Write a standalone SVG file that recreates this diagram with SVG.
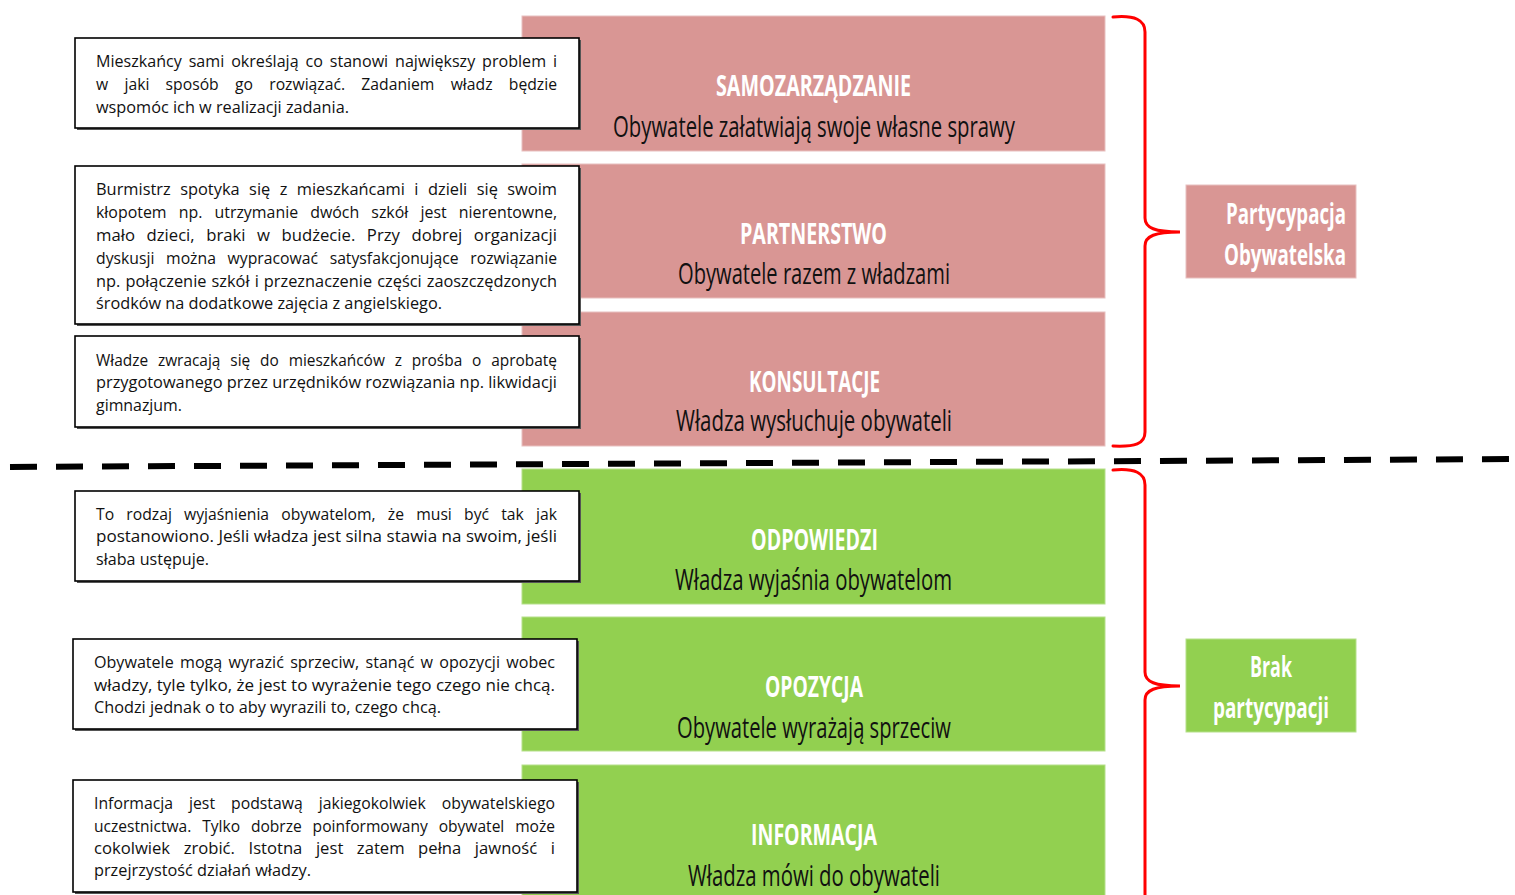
<svg xmlns="http://www.w3.org/2000/svg" width="1515" height="895" viewBox="0 0 1515 895">
<style>
.pink{fill:#D99694;stroke:#E8C0BF;stroke-width:1}
.green{fill:#92D050;stroke:#B5E08A;stroke-width:1}
.ttl{font-family:"Open Sans","Liberation Sans",sans-serif;font-weight:bold;font-size:29px;fill:#ffffff;text-anchor:start}
.sub{font-family:"Open Sans","Liberation Sans",sans-serif;font-size:29px;fill:#111111}
.note{fill:#ffffff;stroke:#000000;stroke-width:1.6}
.shadow{fill:#555555}
.nt{font-family:"Open Sans","Liberation Sans",sans-serif;font-size:15.5px;fill:#111111}
.lbl{font-family:"Open Sans","Liberation Sans",sans-serif;font-weight:bold;font-size:29px;fill:#ffffff}
.brace{fill:none;stroke:#FF0000;stroke-width:3;stroke-linecap:round}
</style>
<rect width="1515" height="895" fill="#ffffff"/>

<g id="levels">
<g id="samorzad">
<rect class="pink" x="522" y="16" width="583" height="135"/>
<text class="ttl" x="716" y="96" textLength="195" lengthAdjust="spacingAndGlyphs">SAMOZARZĄDZANIE</text>
<text class="sub" x="613" y="137" textLength="402" lengthAdjust="spacingAndGlyphs">Obywatele załatwiają swoje własne sprawy</text>
</g>
<g id="partnerstwo">
<rect class="pink" x="522" y="164" width="583" height="134"/>
<text class="ttl" x="740" y="244" textLength="147" lengthAdjust="spacingAndGlyphs">PARTNERSTWO</text>
<text class="sub" x="678" y="284" textLength="272" lengthAdjust="spacingAndGlyphs">Obywatele razem z władzami</text>
</g>
<g id="konsultacje">
<rect class="pink" x="522" y="312" width="583" height="134"/>
<text class="ttl" x="749" y="392" textLength="131" lengthAdjust="spacingAndGlyphs">KONSULTACJE</text>
<text class="sub" x="676" y="431" textLength="276" lengthAdjust="spacingAndGlyphs">Władza wysłuchuje obywateli</text>
</g>
<g id="odpowiedzi">
<rect class="green" x="522" y="469" width="583" height="135"/>
<text class="ttl" x="751" y="550" textLength="127" lengthAdjust="spacingAndGlyphs">ODPOWIEDZI</text>
<text class="sub" x="675" y="590" textLength="277" lengthAdjust="spacingAndGlyphs">Władza wyjaśnia obywatelom</text>
</g>
<g id="opozycja">
<rect class="green" x="522" y="617" width="583" height="134"/>
<text class="ttl" x="765" y="697" textLength="98" lengthAdjust="spacingAndGlyphs">OPOZYCJA</text>
<text class="sub" x="677" y="738" textLength="274" lengthAdjust="spacingAndGlyphs">Obywatele wyrażają sprzeciw</text>
</g>
<g id="informacja">
<rect class="green" x="522" y="765" width="583" height="140"/>
<text class="ttl" x="751" y="845" textLength="126" lengthAdjust="spacingAndGlyphs">INFORMACJA</text>
<text class="sub" x="688" y="886" textLength="252" lengthAdjust="spacingAndGlyphs">Władza mówi do obywateli</text>
</g>
</g>

<g id="notes">
<g id="note-a">
<rect class="shadow" x="77" y="40" width="504" height="90"/>
<rect class="note" x="75" y="38" width="504" height="90"/>
<text class="nt" x="96" y="67" word-spacing="2.6" textLength="461" lengthAdjust="spacingAndGlyphs">Mieszkańcy sami określają co stanowi największy problem i</text>
<text class="nt" x="96" y="90" word-spacing="12" textLength="461" lengthAdjust="spacingAndGlyphs">w jaki sposób go rozwiązać. Zadaniem władz będzie</text>
<text class="nt" x="96" y="113" textLength="253" lengthAdjust="spacingAndGlyphs">wspomóc ich w realizacji zadania.</text>
</g>
<g id="note-b">
<rect class="shadow" x="77" y="168" width="504" height="158"/>
<rect class="note" x="75" y="166" width="504" height="158"/>
<text class="nt" x="96" y="195" word-spacing="4.9" textLength="461" lengthAdjust="spacingAndGlyphs">Burmistrz spotyka się z mieszkańcami i dzieli się swoim</text>
<text class="nt" x="96" y="218" word-spacing="7.8" textLength="461" lengthAdjust="spacingAndGlyphs">kłopotem np. utrzymanie dwóch szkół jest nierentowne,</text>
<text class="nt" x="96" y="241" word-spacing="6.7" textLength="461" lengthAdjust="spacingAndGlyphs">mało dzieci, braki w budżecie. Przy dobrej organizacji</text>
<text class="nt" x="96" y="264" word-spacing="7.5" textLength="461" lengthAdjust="spacingAndGlyphs">dyskusji można wypracować satysfakcjonujące rozwiązanie</text>
<text class="nt" x="96" y="287" word-spacing="0.8" textLength="461" lengthAdjust="spacingAndGlyphs">np. połączenie szkół i przeznaczenie części zaoszczędzonych</text>
<text class="nt" x="96" y="309" textLength="346" lengthAdjust="spacingAndGlyphs">środków na dodatkowe zajęcia z angielskiego.</text>
</g>
<g id="note-c">
<rect class="shadow" x="77" y="338" width="504" height="91"/>
<rect class="note" x="75" y="336" width="504" height="91"/>
<text class="nt" x="96" y="366" word-spacing="5.9" textLength="461" lengthAdjust="spacingAndGlyphs">Władze zwracają się do mieszkańców z prośba o aprobatę</text>
<text class="nt" x="96" y="388" textLength="461" lengthAdjust="spacingAndGlyphs">przygotowanego przez urzędników rozwiązania np. likwidacji</text>
<text class="nt" x="96" y="411" textLength="86" lengthAdjust="spacingAndGlyphs">gimnazjum.</text>
</g>
<g id="note-d">
<rect class="shadow" x="77" y="493" width="504" height="90"/>
<rect class="note" x="75" y="491" width="504" height="90"/>
<text class="nt" x="96" y="520" word-spacing="8" textLength="461" lengthAdjust="spacingAndGlyphs">To rodzaj wyjaśnienia obywatelom, że musi być tak jak</text>
<text class="nt" x="96" y="542" textLength="461" lengthAdjust="spacingAndGlyphs">postanowiono. Jeśli władza jest silna stawia na swoim, jeśli</text>
<text class="nt" x="96" y="565" textLength="113" lengthAdjust="spacingAndGlyphs">słaba ustępuje.</text>
</g>
<g id="note-e">
<rect class="shadow" x="75" y="641" width="504" height="90"/>
<rect class="note" x="73" y="639" width="504" height="90"/>
<text class="nt" x="94" y="668" word-spacing="2" textLength="461" lengthAdjust="spacingAndGlyphs">Obywatele mogą wyrazić sprzeciw, stanąć w opozycji wobec</text>
<text class="nt" x="94" y="691" textLength="461" lengthAdjust="spacingAndGlyphs">władzy, tyle tylko, że jest to wyrażenie tego czego nie chcą.</text>
<text class="nt" x="94" y="713" textLength="347" lengthAdjust="spacingAndGlyphs">Chodzi jednak o to aby wyrazili to, czego chcą.</text>
</g>
<g id="note-f">
<rect class="shadow" x="75" y="782" width="504" height="112"/>
<rect class="note" x="73" y="780" width="504" height="112"/>
<text class="nt" x="94" y="809" word-spacing="11.7" textLength="461" lengthAdjust="spacingAndGlyphs">Informacja jest podstawą jakiegokolwiek obywatelskiego</text>
<text class="nt" x="94" y="832" word-spacing="6.8" textLength="461" lengthAdjust="spacingAndGlyphs">uczestnictwa. Tylko dobrze poinformowany obywatel może</text>
<text class="nt" x="94" y="854" word-spacing="8.6" textLength="461" lengthAdjust="spacingAndGlyphs">cokolwiek zrobić. Istotna jest zatem pełna jawność i</text>
<text class="nt" x="94" y="876" textLength="217" lengthAdjust="spacingAndGlyphs">przejrzystość działań władzy.</text>
</g>
</g>

<g id="labels">
<g id="partycypacja">
<rect class="pink" x="1186" y="185" width="170" height="93"/>
<text class="lbl" x="1226" y="224" textLength="120" lengthAdjust="spacingAndGlyphs">Partycypacja</text>
<text class="lbl" x="1224" y="265" textLength="122" lengthAdjust="spacingAndGlyphs">Obywatelska</text>
</g>
<g id="brak">
<rect class="green" x="1186" y="639" width="170" height="93"/>
<text class="lbl" x="1250" y="677" textLength="42" lengthAdjust="spacingAndGlyphs">Brak</text>
<text class="lbl" x="1213" y="718" textLength="116" lengthAdjust="spacingAndGlyphs">partycypacji</text>
</g>
</g>

<g id="connectors">
<line x1="10" y1="467" x2="1515" y2="459" stroke="#000000" stroke-width="6" stroke-dasharray="27 19"/>
<path class="brace" d="M1113,17 C1135,15 1145,20 1145,32 L1145,218 C1145,228 1155,232 1180,232 C1155,232 1145,236 1145,246 L1145,432 C1145,444 1135,447 1113,446"/>
<path class="brace" d="M1113,470 C1135,468 1145,473 1145,485 L1145,672 C1145,682 1155,686 1180,686 C1155,686 1145,690 1145,700 L1145,900"/>
</g>
</svg>
